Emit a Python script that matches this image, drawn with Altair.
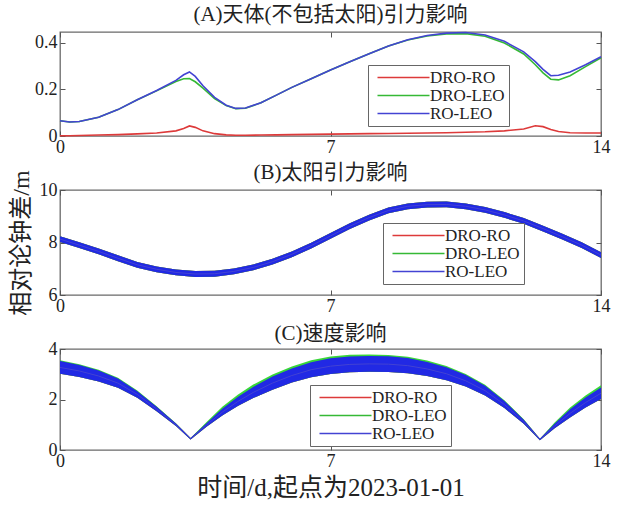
import altair as alt
import pandas as pd

FONT = "'Liberation Serif', 'Noto Sans CJK SC', serif"
SERIES = ["DRO-RO", "DRO-LEO", "RO-LEO"]
COLORS = ["#dd3a3a", "#35b935", "#4343d3"]
BAND_COLORS = ["#d83030", "#2ed42e", "#2020ee"]

# (A) gravitational effect of bodies other than the Sun
a_days = [0, 0.25, 0.5, 1, 1.5, 2, 2.5, 3, 3.2, 3.35, 3.5, 3.7, 4, 4.3, 4.55, 4.8,
          5.2, 5.6, 6, 6.5, 7, 7.5, 8, 8.5, 9, 9.5, 10, 10.5, 11, 11.5, 12, 12.3,
          12.5, 12.7, 12.9, 13.2, 13.6, 14]
a_dro_ro = [0.001, 0.001, 0.002, 0.004, 0.006, 0.009, 0.013, 0.022, 0.032, 0.043, 0.037,
            0.022, 0.010, 0.005, 0.003, 0.003, 0.004, 0.005, 0.006, 0.007, 0.008, 0.009,
            0.010, 0.011, 0.012, 0.013, 0.014, 0.016, 0.018, 0.022, 0.030, 0.044, 0.040,
            0.028, 0.019, 0.014, 0.013, 0.013]
a_dro_leo = [0.065, 0.060, 0.062, 0.080, 0.113, 0.155, 0.193, 0.233, 0.245, 0.246, 0.232,
             0.205, 0.160, 0.130, 0.117, 0.119, 0.142, 0.175, 0.208, 0.245, 0.282, 0.318,
             0.352, 0.385, 0.411, 0.428, 0.437, 0.438, 0.427, 0.398, 0.351, 0.305, 0.270,
             0.243, 0.240, 0.258, 0.297, 0.335]
a_ro_leo = [0.065, 0.060, 0.062, 0.080, 0.113, 0.155, 0.195, 0.238, 0.262, 0.274, 0.255,
            0.215, 0.165, 0.132, 0.118, 0.120, 0.142, 0.175, 0.208, 0.245, 0.282, 0.318,
            0.352, 0.385, 0.412, 0.430, 0.440, 0.443, 0.432, 0.405, 0.360, 0.318, 0.285,
            0.258, 0.260, 0.274, 0.305, 0.339]

# (B) solar gravitational effect (the three series overlap)
b_days = [0, 0.5, 1, 1.5, 2, 2.5, 3, 3.5, 4, 4.5, 5, 5.5, 6, 6.5, 7, 7.5, 8, 8.5, 9,
          9.5, 10, 10.5, 11, 11.5, 12, 12.5, 13, 13.5, 14]
b_center = [8.13, 7.90, 7.66, 7.40, 7.15, 6.98, 6.86, 6.80, 6.81, 6.90, 7.05, 7.27, 7.55,
            7.88, 8.25, 8.62, 8.95, 9.22, 9.38, 9.44, 9.45, 9.38, 9.24, 9.05, 8.82, 8.53,
            8.22, 7.90, 7.52]
b_half = 0.11

# (C) velocity effect
c_days = [0, 0.5, 1, 1.5, 2, 2.5, 3, 3.38, 3.8, 4.2, 4.6, 5, 5.5, 6, 6.5, 7, 7.5, 8,
          8.5, 9, 9.5, 10, 10.5, 11, 11.5, 12, 12.42, 12.8, 13.2, 13.6, 14]
c_center = [3.27, 3.13, 2.93, 2.65, 2.20, 1.62, 1.00, 0.45, 1.00, 1.50, 1.92, 2.28, 2.65,
            2.95, 3.18, 3.32, 3.39, 3.41, 3.40, 3.34, 3.21, 3.02, 2.74, 2.35, 1.80, 1.12,
            0.42, 0.95, 1.45, 1.88, 2.25]
c_half = [0.25, 0.24, 0.22, 0.18, 0.13, 0.09, 0.05, 0.03, 0.07, 0.13, 0.18, 0.22, 0.26,
          0.28, 0.30, 0.31, 0.31, 0.31, 0.31, 0.30, 0.28, 0.26, 0.23, 0.19, 0.14, 0.08,
          0.03, 0.09, 0.16, 0.20, 0.23]
c_green_lift = [0.03, 0.03, 0.03, 0.03, 0.03, 0.02, 0.01, 0.0, 0.05, 0.08, 0.09, 0.09,
                0.08, 0.08, 0.07, 0.07, 0.07, 0.06, 0.05, 0.05, 0.05, 0.05, 0.04, 0.04,
                0.03, 0.02, 0.0, 0.05, 0.07, 0.08, 0.08]

X_TICKS = [0, 7, 14]
PANEL_W = 541


def frame(name, days, values, lo=None, hi=None):
    df = pd.DataFrame({"day": days, "value": values, "series": name})
    if lo is not None:
        df["lo"] = lo
        df["hi"] = hi
    return df


def color_enc(legend):
    return alt.Color("series:N",
                     scale=alt.Scale(domain=SERIES, range=COLORS),
                     legend=legend)


def make_legend(lx, ly):
    # wide horizontal line symbol; a small size keeps the rows tight
    return alt.Legend(orient="none", legendX=lx, legendY=ly, title=None,
                      fillColor="white", strokeColor="#666", padding=4,
                      symbolType="M-5.2,0H5.2", symbolSize=100, symbolOffset=23,
                      symbolStrokeWidth=1.6, symbolFillColor="transparent",
                      labelFont=FONT, labelFontSize=17, labelColor="#222",
                      labelOffset=18, rowPadding=0, labelLimit=200)


def bottom_axis(title=None):
    kw = dict(values=X_TICKS, tickSize=5, offset=-5, labelPadding=2, labelFlush=False,
              domain=False)
    if title:
        kw.update(title=title, titleFontSize=25, titlePadding=5)
    else:
        kw.update(title=None)
    return alt.Axis(**kw)


def left_axis(values, fmt=None, title=None):
    kw = dict(values=values, tickSize=5, offset=-5, labelPadding=3, domain=False)
    if fmt:
        kw["format"] = fmt
    if title:
        kw.update(title=title, titleFontSize=24, titlePadding=6)
    else:
        kw.update(title=None)
    return alt.Axis(**kw)


def frame_ticks(df, xs, ys, yvalues):
    # inward ticks on the top and right edges of the box
    return alt.Chart(df).mark_line(opacity=0).encode(
        x=alt.X("day:Q", scale=xs, axis=alt.Axis(orient="top", values=X_TICKS, labels=False,
                                                 tickSize=5, offset=-5, domain=False, title=None)),
        y=alt.Y("value:Q", scale=ys, axis=alt.Axis(orient="right", values=yvalues, labels=False,
                                                   tickSize=5, offset=-5, domain=False, title=None)),
    )


def panel_title(text, offset):
    # the offset is measured from the panel's full bounds (axis titles included)
    return alt.TitleParams(text, offset=offset, frame="group")


xs = alt.Scale(domain=[0, 14], nice=False, zero=False)

# ---- panel A: plain lines
ys_a = alt.Scale(domain=[0, 0.445], nice=False, zero=False)
leg_a = make_legend(308, 33)
a_frames = [frame(SERIES[0], a_days, a_dro_ro),
            frame(SERIES[1], a_days, a_dro_leo),
            frame(SERIES[2], a_days, a_ro_leo)]
a_layers = []
for i, df in enumerate(a_frames):
    a_layers.append(alt.Chart(df).mark_line(strokeWidth=1.6).encode(
        x=alt.X("day:Q", scale=xs, axis=bottom_axis() if i == 0 else None),
        y=alt.Y("value:Q", scale=ys_a,
                axis=left_axis([0, 0.2, 0.4], fmt=".1~f") if i == 0 else None),
        color=color_enc(leg_a),
    ))
a_layers.append(frame_ticks(a_frames[0], xs, ys_a, [0, 0.2, 0.4]))
panel_a = alt.layer(*a_layers).resolve_axis(x="independent", y="independent").properties(
    width=PANEL_W, height=104, title=panel_title("(A)天体(不包括太阳)引力影响", 4),
)

# ---- panel B: oscillating bands
ys_b = alt.Scale(domain=[6, 10], nice=False, zero=False)
leg_b = make_legend(323, 33)
b_lo = [v - b_half for v in b_center]
b_hi = [v + b_half for v in b_center]
b_layers = []
for i, name in enumerate(SERIES):
    df = frame(name, b_days, b_center, b_lo, b_hi)
    b_layers.append(alt.Chart(df).mark_area(color=BAND_COLORS[i], opacity=0.95).encode(
        x=alt.X("day:Q", scale=xs, axis=bottom_axis() if i == 0 else None),
        y=alt.Y("lo:Q", scale=ys_b,
                axis=left_axis([6, 8, 10], title="相对论钟差/m") if i == 0 else None),
        y2="hi:Q",
    ))
    b_layers.append(alt.Chart(df).mark_line(strokeWidth=1).encode(
        x=alt.X("day:Q", scale=xs, axis=None),
        y=alt.Y("value:Q", scale=ys_b, axis=None),
        color=color_enc(leg_b),
    ))
b_layers.append(frame_ticks(frame(SERIES[0], b_days, b_center), xs, ys_b, [6, 8, 10]))
panel_b = alt.layer(*b_layers).resolve_axis(x="independent", y="independent").properties(
    width=PANEL_W, height=105, title=panel_title("(B)太阳引力影响", -13),
)

# ---- panel C: oscillating bands, green slightly above
ys_c = alt.Scale(domain=[0, 4], nice=False, zero=False)
leg_c = make_legend(250, 36)
c_lo = [m - h for m, h in zip(c_center, c_half)]
c_hi = [m + h for m, h in zip(c_center, c_half)]
c_hi_green = [h + g for h, g in zip(c_hi, c_green_lift)]
c_frames = [frame(SERIES[0], c_days, c_center, c_lo, c_hi),
            frame(SERIES[1], c_days, c_center, c_lo, c_hi_green),
            frame(SERIES[2], c_days, c_center, c_lo, c_hi)]
c_layers = []
for i, df in enumerate(c_frames):
    c_layers.append(alt.Chart(df).mark_area(color=BAND_COLORS[i], opacity=0.95).encode(
        x=alt.X("day:Q", scale=xs,
                axis=bottom_axis("时间/d,起点为2023-01-01") if i == 0 else None),
        y=alt.Y("lo:Q", scale=ys_c, axis=left_axis([0, 2, 4]) if i == 0 else None),
        y2="hi:Q",
    ))
    c_layers.append(alt.Chart(df).mark_line(strokeWidth=1).encode(
        x=alt.X("day:Q", scale=xs, axis=None),
        y=alt.Y("value:Q", scale=ys_c, axis=None),
        color=color_enc(leg_c),
    ))
c_layers.append(frame_ticks(c_frames[0], xs, ys_c, [0, 2, 4]))
panel_c = alt.layer(*c_layers).resolve_axis(x="independent", y="independent").properties(
    width=PANEL_W, height=101, title=panel_title("(C)速度影响", -4),
)

chart = alt.vconcat(panel_a, panel_b, panel_c, spacing=54, bounds="flush").resolve_scale(
    color="independent"
).resolve_legend(color="independent").properties(
    padding={"left": 8, "top": 3, "right": 5, "bottom": 5},
    background="white",
).configure_view(
    stroke="#6a6a6a", strokeWidth=1.3
).configure_axis(
    grid=False, tickColor="#555", tickWidth=1,
    labelFont=FONT, labelFontSize=18, labelColor="#222",
    titleFont=FONT, titleColor="#222", titleFontWeight="normal",
).configure_title(
    font=FONT, fontSize=21, fontWeight="normal", color="#222", anchor="middle",
)

chart.save("out.html", embed_options={"renderer": "svg", "actions": False})
